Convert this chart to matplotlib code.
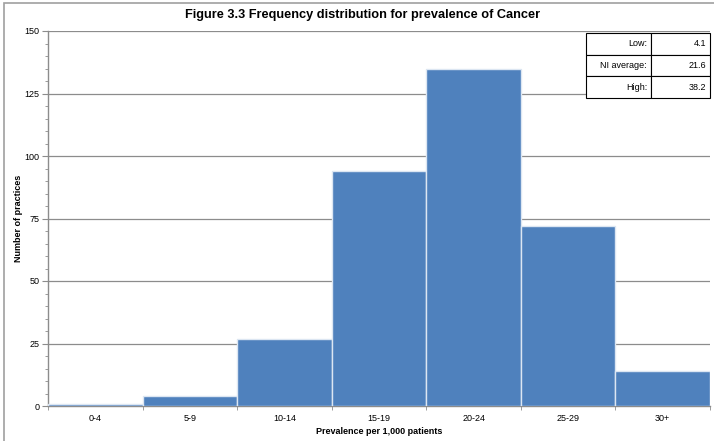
import matplotlib.pyplot as plt
from matplotlib.patches import Rectangle
from matplotlib.ticker import MultipleLocator

plt.rcParams['font.family'] = ['Liberation Sans', 'DejaVu Sans']

# prevalence bands and number of practices in each
bands = ['0-4', '5-9', '10-14', '15-19', '20-24', '25-29', '30+']
practices = [1, 4, 27, 94, 135, 72, 14]

# summary box
stat_names = ['Low:', 'NI average:', 'High:']
stat_values = ['4.1', '21.6', '38.2']

fig = plt.figure(figsize=(7.14, 4.41), dpi=100)
fig.patches.append(Rectangle((4/714, -0.1), 1.2, 1 - 3.5/441 + 0.1, transform=fig.transFigure,
                             fill=False, edgecolor='#a0a0a0', linewidth=1.2))

ax = fig.add_axes([48/714, 1 - 406/441, 662/714, 375/441])
x = list(range(len(bands)))
ax.bar(x, practices, width=1.0, color='#4F81BD', edgecolor='#dce6f2', linewidth=1.0, zorder=3)
ax.set_xlim(-0.5, len(bands) - 0.5)
ax.set_ylim(0, 150)
ax.set_xticks(x)
ax.set_xticklabels(bands)
ax.yaxis.set_major_locator(MultipleLocator(25))
ax.yaxis.set_minor_locator(MultipleLocator(5))
ax.grid(axis='y', which='major', color='#8c8c8c', linewidth=0.9, zorder=1)

# tick marks on the category boundaries
ax.set_xticks([i - 0.5 for i in range(len(bands) + 1)], minor=True)
ax.tick_params(axis='x', which='major', length=0, labelsize=6.5, pad=6)
ax.tick_params(axis='x', which='minor', length=3, color='#8c8c8c')
ax.tick_params(axis='y', which='major', length=4, labelsize=6.5, color='#8c8c8c', pad=2)
ax.tick_params(axis='y', which='minor', length=2, color='#8c8c8c')

for side in ['top', 'right']:
    ax.spines[side].set_visible(False)
for side in ['left', 'bottom']:
    ax.spines[side].set_color('#8c8c8c')
    ax.spines[side].set_linewidth(1.0)

ax.set_xlabel('Prevalence per 1,000 patients', fontsize=6.5, fontweight='bold', labelpad=3)
ax.set_ylabel('Number of practices', fontsize=6.5, fontweight='bold', labelpad=1)
fig.text(363/714, 1 - 15/441, 'Figure 3.3 Frequency distribution for prevalence of Cancer',
         ha='center', va='center', fontsize=9.2, fontweight='bold')

# stats table in the top right corner
tbl = ax.table(cellText=[[n, v] for n, v in zip(stat_names, stat_values)],
               cellLoc='right', colWidths=[65/662, 59/662],
               bbox=[(586 - 48)/662, (406 - 98)/375, 124/662, 65/375], zorder=5)
tbl.auto_set_font_size(False)
tbl.set_fontsize(6.5)
for cell in tbl.get_celld().values():
    cell.set_edgecolor('black')
    cell.set_linewidth(0.8)
    cell.set_facecolor('white')
    cell.PAD = 0.06

fig.savefig('out.png', dpi=100)
